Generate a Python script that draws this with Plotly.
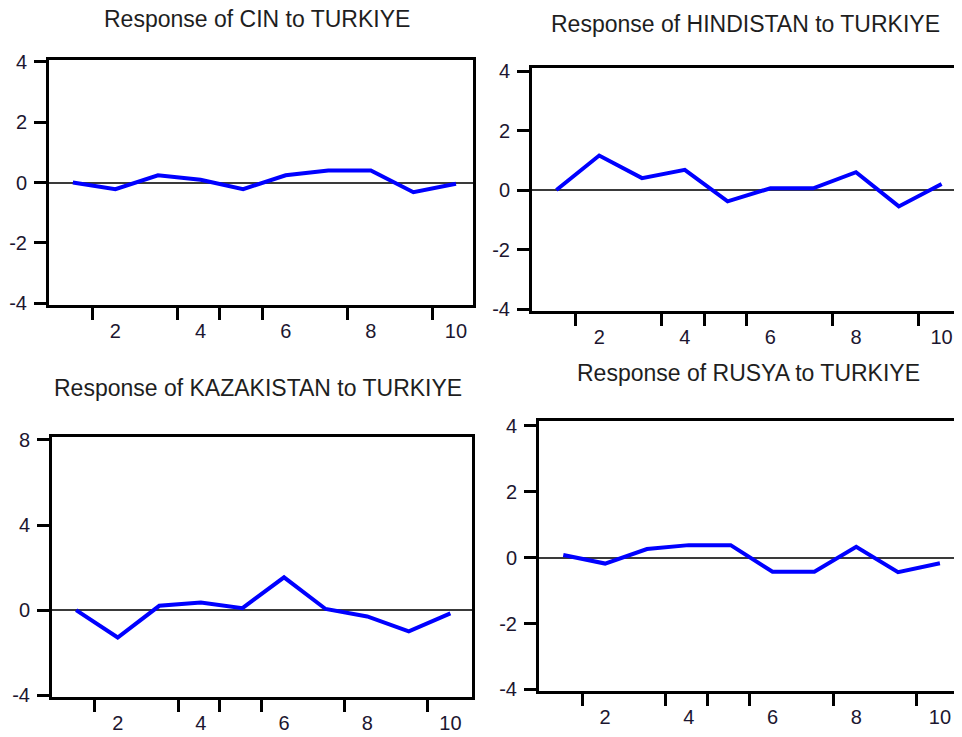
import plotly.graph_objects as go

# ---- data ----
periods = [1, 2, 3, 4, 5, 6, 7, 8, 9, 10]
cin = [0.0, -0.22, 0.24, 0.09, -0.22, 0.24, 0.40, 0.40, -0.32, -0.04]
hindistan = [0.0, 1.16, 0.40, 0.68, -0.38, 0.06, 0.06, 0.60, -0.55, 0.20]
kazakistan = [0.0, -1.29, 0.20, 0.36, 0.09, 1.54, 0.05, -0.30, -1.00, -0.16]
rusya = [0.08, -0.18, 0.26, 0.38, 0.38, -0.43, -0.43, 0.33, -0.44, -0.17]

titles = [
    "Response of CIN to TURKIYE",
    "Response of HINDISTAN to TURKIYE",
    "Response of KAZAKISTAN to TURKIYE",
    "Response of RUSYA to TURKIYE",
]
x_label_ticks = [2, 4, 6, 8, 10]
x_label_text = ["2", "4", "6", "8", "10"]
x_mark_ticks = [1.45, 3.45, 4.45, 5.45, 7.45, 9.45]
y_ticks_small = [-4, -2, 0, 2, 4]
y_text_small = ["-4", "-2", "0", "2", "4"]
y_ticks_large = [-4, 0, 4, 8]
y_text_large = ["-4", "0", "4", "8"]

# ---- layout geometry (pixels in the page; the page body has an 8px margin) ----
OFF = 8
W, H = 980, 760
panels = [
    dict(y=cin, title=titles[0], px=(49, 473), py=(60, 305),
         xr=[0.44, 10.4], yr=[-4.05, 4.05], yt=y_ticks_small, ytt=y_text_small,
         tpos=(257, 19)),
    dict(y=hindistan, title=titles[1], px=(532, 972), py=(67.5, 310.5),
         xr=[0.43, 10.71], yr=[-4.05, 4.12], yt=y_ticks_small, ytt=y_text_small,
         tpos=(745, 24)),
    dict(y=kazakistan, title=titles[2], px=(52, 472), py=(437, 697),
         xr=[0.42, 10.52], yr=[-4.09, 8.14], yt=y_ticks_large, ytt=y_text_large,
         tpos=(258, 388)),
    dict(y=rusya, title=titles[3], px=(539, 960), py=(421, 691),
         xr=[0.42, 10.48], yr=[-4.05, 4.15], yt=y_ticks_small, ytt=y_text_small,
         tpos=(748, 373)),
]

FONT = "Liberation Sans, Arial, sans-serif"
TICKCOL = "#1c1630"

fig = go.Figure()
layout = dict(
    width=W, height=H,
    margin=dict(l=0, r=0, t=0, b=0, pad=0, autoexpand=False),
    paper_bgcolor="white", plot_bgcolor="white",
    showlegend=False,
    font=dict(family=FONT, size=20, color=TICKCOL),
    annotations=[],
)

for i, p in enumerate(panels, start=1):
    xa = f"x{i}" if i > 1 else "x"
    ya = f"y{i}" if i > 1 else "y"
    xo = f"x{i + 4}"
    fig.add_trace(go.Scatter(x=periods, y=p["y"], mode="lines",
                             line=dict(color="#0000ff", width=4),
                             xaxis=xa, yaxis=ya, hoverinfo="x+y"))
    # invisible companion trace so the tick-mark overlay axis is drawn
    fig.add_trace(go.Scatter(x=periods, y=p["y"], mode="lines",
                             line=dict(color="rgba(0,0,0,0)", width=0),
                             xaxis=xo, yaxis=ya, hoverinfo="skip"))
    x0, x1 = p["px"][0] - OFF, p["px"][1] - OFF
    y0, y1 = p["py"][0] - OFF, p["py"][1] - OFF
    xd = [x0 / W, min(1.0, x1 / W)]
    yd = [1 - y1 / H, 1 - y0 / H]
    layout[f"xaxis{i if i > 1 else ''}"] = dict(
        domain=xd, range=p["xr"], anchor=ya, automargin=False,
        tickmode="array", tickvals=x_label_ticks, ticktext=x_label_text,
        ticks="outside", ticklen=5, tickcolor="rgba(0,0,0,0)",
        ticklabelstandoff=1,
        showline=True, mirror=True, linewidth=3, linecolor="black",
        showgrid=False, zeroline=False,
        tickfont=dict(size=20, color=TICKCOL, family=FONT),
    )
    layout[f"xaxis{i + 4}"] = dict(
        overlaying=xa, anchor=ya, range=p["xr"], side="bottom", automargin=False,
        tickmode="array", tickvals=x_mark_ticks,
        ticks="outside", ticklen=14, tickwidth=3, tickcolor="black",
        showticklabels=False, showline=False, showgrid=False, zeroline=False,
    )
    layout[f"yaxis{i if i > 1 else ''}"] = dict(
        domain=yd, range=p["yr"], anchor=xa, automargin=False,
        tickmode="array", tickvals=p["yt"], ticktext=p["ytt"],
        ticks="outside", ticklen=12, tickwidth=3, tickcolor="black",
        ticklabelstandoff=3,
        showline=True, mirror=True, linewidth=3, linecolor="black",
        showgrid=False,
        zeroline=True, zerolinecolor="#3a3a3a", zerolinewidth=1.5,
        tickfont=dict(size=20, color=TICKCOL, family=FONT),
    )
    layout["annotations"].append(dict(
        text=p["title"], xref="paper", yref="paper",
        x=(p["tpos"][0] - OFF) / W, y=1 - (p["tpos"][1] - OFF) / H,
        xanchor="center", yanchor="middle", showarrow=False,
        font=dict(size=23, color="#1e1e1e", family=FONT),
    ))

fig.update_layout(**layout)
fig.write_html("out.html")
